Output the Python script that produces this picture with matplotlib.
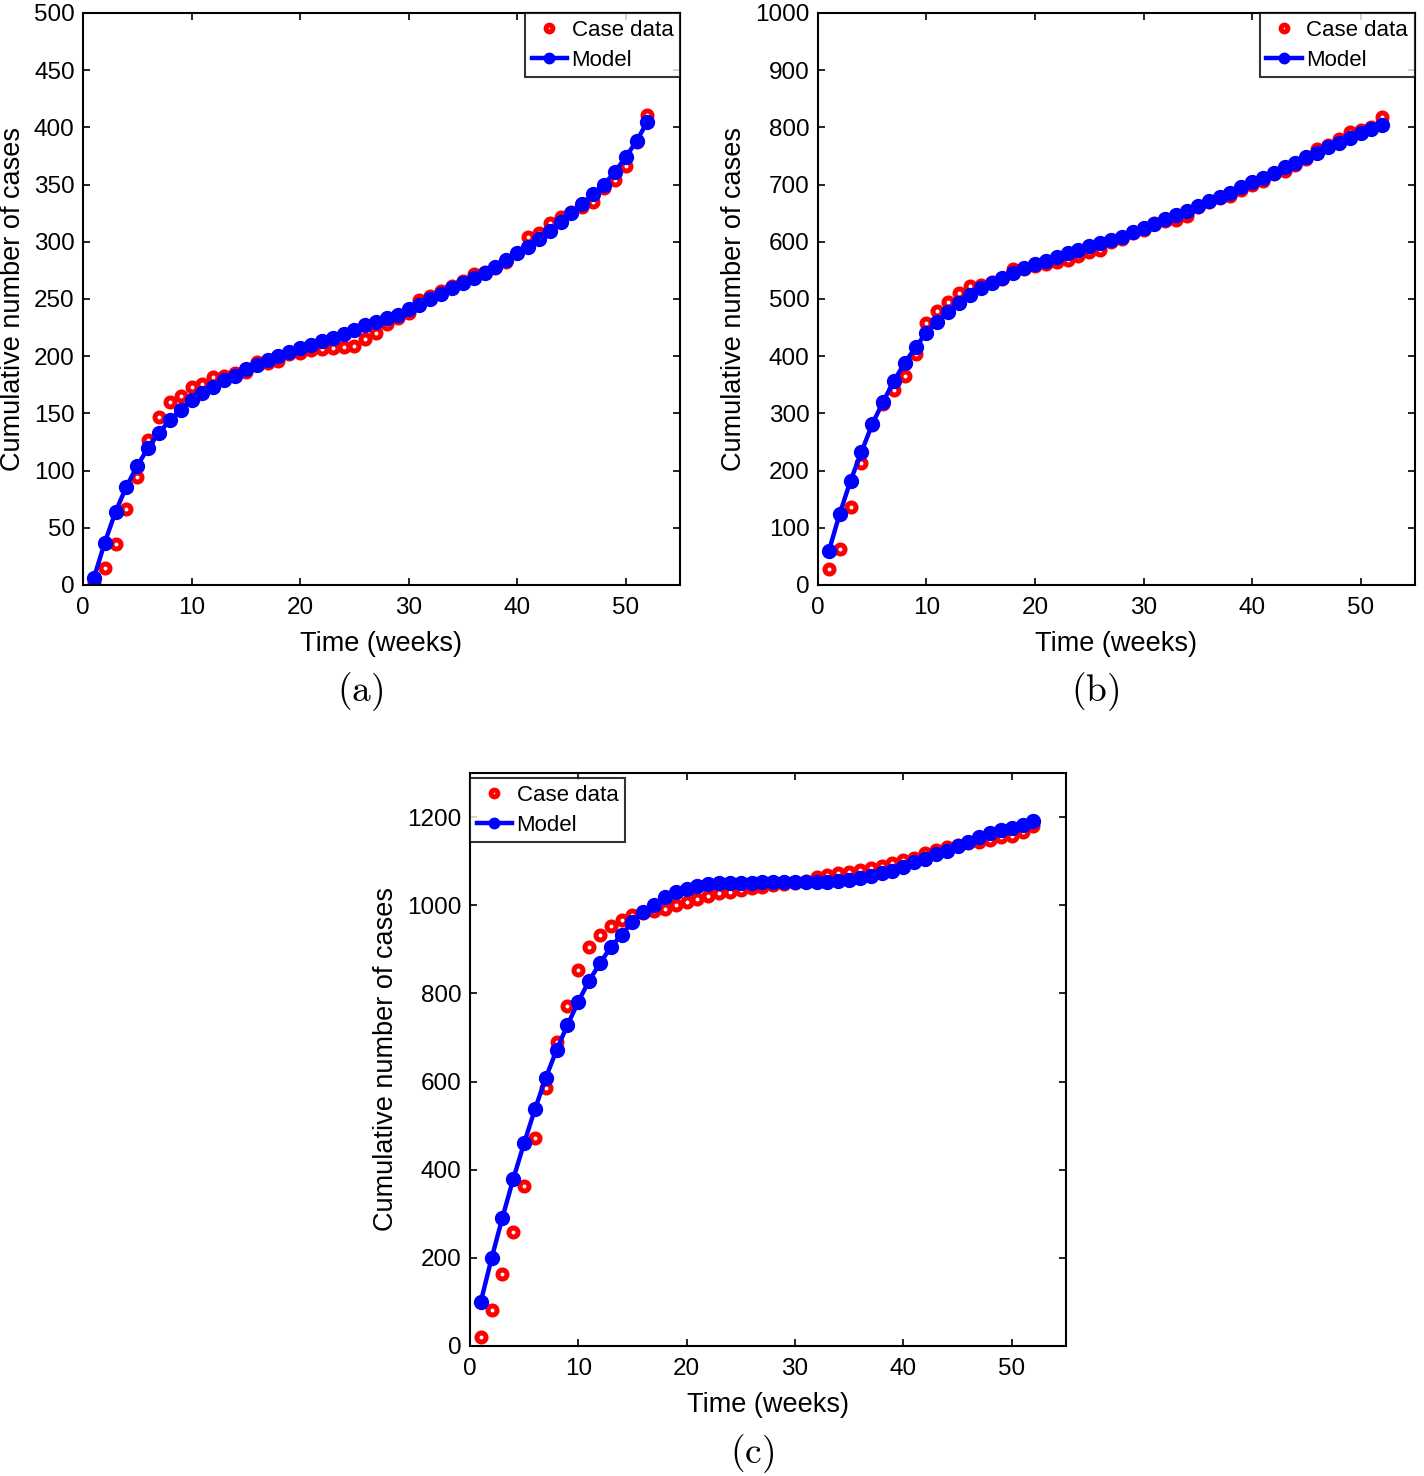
import matplotlib as mpl
mpl.use('Agg')
import matplotlib.pyplot as plt

plt.rcParams['font.family'] = ['Liberation Sans', 'DejaVu Sans']
plt.rcParams['mathtext.fontset'] = 'cm'

weeks = list(range(1, 53))

# panel (a)
case_a = [2, 15, 36, 66, 94, 127, 147, 160, 165, 173, 176, 182, 183, 185, 186, 195, 194, 196, 202, 203,
          205, 206, 207, 208, 209, 215, 220, 228, 233, 238, 249, 253, 257, 261, 266, 272, 274, 277, 282, 290,
          304, 308, 316, 322, 326, 330, 335, 347, 354, 366, 387, 411]
model_a = [6, 37, 64, 86, 104, 120, 133, 144, 153, 162, 168, 173, 179, 183, 189, 192, 197, 200, 204, 207,
           210, 213, 216, 219, 223, 227, 230, 233, 236, 241, 245, 250, 254, 260, 264, 268, 273, 278, 284, 290,
           295, 302, 309, 317, 325, 333, 342, 350, 361, 374, 388, 405]

# panel (b)
case_b = [28, 63, 136, 213, 280, 316, 341, 365, 404, 458, 479, 495, 511, 523, 524, 530, 535, 552, 553, 557,
          562, 565, 568, 575, 582, 585, 600, 605, 615, 620, 633, 637, 638, 645, 660, 670, 677, 680, 690, 700,
          706, 718, 724, 735, 745, 763, 770, 779, 792, 796, 800, 818]
model_b = [59, 124, 182, 232, 281, 320, 357, 388, 416, 441, 460, 477, 493, 507, 519, 528, 537, 545, 554, 561,
           567, 574, 580, 586, 592, 598, 603, 609, 617, 624, 631, 640, 647, 654, 663, 671, 679, 686, 695, 704,
           712, 721, 730, 738, 748, 756, 765, 773, 782, 790, 797, 804]

# panel (c)
case_c = [20, 82, 163, 259, 363, 472, 585, 689, 772, 854, 906, 932, 952, 966, 978, 982, 986, 992, 1000, 1007,
          1015, 1021, 1027, 1031, 1035, 1039, 1042, 1046, 1049, 1050, 1055, 1065, 1068, 1073, 1076, 1080, 1085,
          1090, 1095, 1103, 1108, 1118, 1125, 1132, 1137, 1141, 1144, 1148, 1154, 1158, 1166, 1180]
model_c = [100, 199, 291, 379, 460, 537, 608, 672, 728, 781, 829, 868, 905, 933, 962, 984, 1001, 1019, 1029,
           1037, 1043, 1047, 1050, 1051, 1051, 1051, 1052, 1052, 1052, 1052, 1052, 1052, 1053, 1055, 1057, 1061,
           1066, 1072, 1078, 1087, 1097, 1105, 1116, 1124, 1135, 1144, 1154, 1163, 1171, 1176, 1183, 1192]

fig = plt.figure(figsize=(14.24, 14.76), dpi=100)

panels = [
    ([0.0583, 0.6037, 0.4192, 0.3875], case_a, model_a, 500, 50, 'upper right', '(a)', 0.465),
    ([0.5744, 0.6037, 0.4192, 0.3875], case_b, model_b, 1000, 100, 'upper right', '(b)', 0.465),
    ([0.3300, 0.0881, 0.4185, 0.3882], case_c, model_c, 1300, 200, 'upper left', '(c)', 0.473),
]

for rect, case, model, ymax, ystep, loc, tag, tx in panels:
    ax = fig.add_axes(rect)
    ax.plot(weeks, case, 'o', color='red', markerfacecolor='none', markeredgewidth=3.6,
            markersize=6.5, label='Case data')
    ax.plot(weeks, model, '-o', color='blue', linewidth=3.2, markersize=10, label='Model')
    ax.set_xlim(0, 55)
    ax.set_ylim(0, ymax)
    ax.set_xticks(range(0, 51, 10))
    top = ymax - ymax % ystep
    ax.set_yticks(range(0, top + 1, ystep))
    ax.tick_params(direction='in', length=5, width=1.2, top=True, right=True, labelsize=17.5)
    ax.tick_params(axis='x', pad=9)
    ax.tick_params(axis='y', pad=6)
    for s in ax.spines.values():
        s.set_linewidth(1.5)
    ax.set_xlabel('Time (weeks)', fontsize=19.5, labelpad=8)
    ax.set_ylabel('Cumulative number of cases', fontsize=19.5, labelpad=6)
    if loc == 'upper left':
        leg = ax.legend(loc='upper left', bbox_to_anchor=(0, 0.991), fontsize=16, frameon=True,
                        fancybox=False, borderaxespad=0, handlelength=1.6, handletextpad=0.2,
                        borderpad=0.3, labelspacing=0.4, markerscale=0.75)
    else:
        leg = ax.legend(loc=loc, fontsize=16, frameon=True, fancybox=False, borderaxespad=0,
                        handlelength=1.6, handletextpad=0.2, borderpad=0.3, labelspacing=0.4,
                        markerscale=0.75)
    leg.get_frame().set_edgecolor('black')
    leg.get_frame().set_linewidth(1.5)
    ax.text(tx, -0.187, r'$\mathrm{' + tag + '}$', transform=ax.transAxes, ha='center', va='center',
            fontsize=27)

plt.savefig('out.png')
plt.close()
